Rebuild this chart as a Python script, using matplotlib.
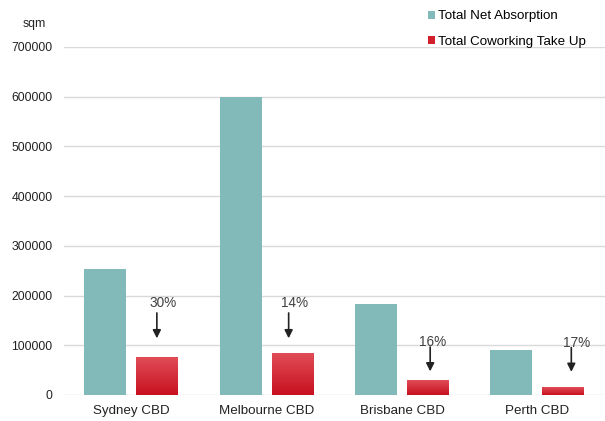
import numpy as np
import matplotlib
matplotlib.use("Agg")
import matplotlib.pyplot as plt
from matplotlib.patches import Patch
from matplotlib.colors import LinearSegmentedColormap

plt.rcParams['font.family'] = ['Liberation Sans', 'DejaVu Sans']

# Office absorption vs coworking take-up by CBD (sqm)
markets = ["Sydney CBD", "Melbourne CBD", "Brisbane CBD", "Perth CBD"]
net_absorption = [254000, 600000, 183000, 90000]
coworking_take_up = [76000, 83000, 30000, 15000]

teal = "#82b9b9"
red_cmap = LinearSegmentedColormap.from_list("red_grad", ["#c8101f", "#e04d57"])

fig = plt.figure(figsize=(6.05, 4.21), dpi=100)
ax = fig.add_axes([0.1054, 0.0618, 0.8946, 0.8266])

x = np.arange(len(markets))
w = 0.31
off = 0.192

ax.bar(x - off, net_absorption, width=w, color=teal, zorder=3)
red_bars = ax.bar(x + off, coworking_take_up, width=w, color="#d0202c", zorder=3)

# vertical gradient on the coworking bars
grad = np.linspace(0, 1, 256).reshape(-1, 1)
for b in red_bars:
    x0, y0 = b.get_x(), b.get_y()
    ax.imshow(grad, cmap=red_cmap, aspect="auto", origin="lower",
              extent=[x0, x0 + b.get_width(), y0, y0 + b.get_height()], zorder=4)
    b.set_alpha(0)

ax.set_xlim(-0.5, 3.5)
ax.set_ylim(0, 700000)
ax.set_yticks(np.arange(0, 700001, 100000))
ax.set_yticklabels([str(v) for v in range(0, 700001, 100000)])
ax.set_xticks(x)
ax.set_xticklabels(markets)
ax.grid(axis="y", color="#d9d9d9", linewidth=1, zorder=0)
for s in ax.spines.values():
    s.set_visible(False)
ax.tick_params(axis="y", length=0, pad=8, labelsize=8.8, colors="#222222")
ax.tick_params(axis="x", length=0, pad=7, labelsize=9.6, colors="#222222")

# share of net absorption taken by coworking, with arrows pointing at the bars
arrow_dx = [0.188, 1.162, 2.208, 3.251]
text_dx = [0.233, 1.207, 2.225, 3.288]
text_y = [186000, 186000, 106500, 105500]
arrow_top = [165000, 165000, 96500, 95500]
arrow_bot = [114000, 114000, 47500, 46500]
for i in range(len(markets)):
    share = round(100 * coworking_take_up[i] / net_absorption[i])
    ax.text(text_dx[i], text_y[i], f"{share}%", ha="center", va="center",
            fontsize=9.8, color="#404040", zorder=5)
    ax.annotate("", xy=(arrow_dx[i], arrow_bot[i]), xytext=(arrow_dx[i], arrow_top[i]),
                arrowprops=dict(arrowstyle="-|>", color="#222222", lw=1.2,
                                mutation_scale=12, shrinkA=0, shrinkB=0), zorder=5)

fig.text(0.056, 0.943, "sqm", fontsize=8.8, ha="center", va="center", color="#222222")

handles = [Patch(facecolor=teal, edgecolor="none"),
           Patch(facecolor="#d0202c", edgecolor="none")]
fig.legend(handles, ["Total Net Absorption", "Total Coworking Take Up"],
           loc="upper left", bbox_to_anchor=(0.687, 1.004), frameon=False,
           fontsize=9.6, handlelength=0.55, handleheight=0.55, handletextpad=0.2,
           labelspacing=1.0)

fig.savefig("out.png", dpi=100, facecolor="white")
